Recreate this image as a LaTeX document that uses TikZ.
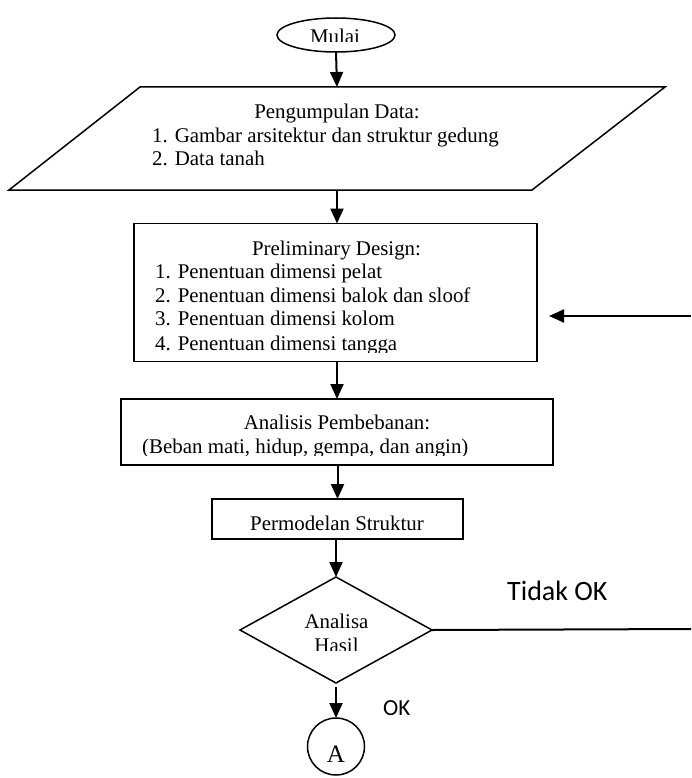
\documentclass[tikz,border=0pt]{standalone}
\usepackage{fontspec}
\setmainfont{Liberation Serif}
\newfontfamily\calibrifont{Carlito}
\usetikzlibrary{shapes.geometric,arrows.meta}
\begin{document}
\begin{tikzpicture}[x=1pt,y=-1pt,
  shapeline/.style={draw, line width=1.5pt, inner sep=0pt, outer sep=0pt},
  ghost/.style={inner sep=0pt, outer sep=0pt},
  conn/.style={line width=2pt, -{Triangle[width=13pt,length=15pt]}},
  plainline/.style={line width=2pt},
  txt/.style={inner sep=0pt, font=\fontsize{20.9}{23.7}\selectfont},
  lbl/.style={inner sep=0pt, font=\calibrifont\fontsize{28}{32}\selectfont},
  lblsmall/.style={inner sep=0pt, font=\calibrifont\fontsize{23}{27}\selectfont},
]
\useasboundingbox (0,0) rectangle (691,778);

% --- shapes ---
\node[shapeline, ellipse, minimum width=118pt, minimum height=34pt] (mulai) at (336,35) {};
\draw[line width=1.5pt] (140,87) -- (665,87) -- (532,190) -- (9,190) -- cycle;
\node[ghost, minimum width=390pt, minimum height=103pt] (data) at (337,138.5) {};
\node[shapeline, rectangle, minimum width=403pt, minimum height=138pt] (prelim) at (335.5,292.5) {};
\node[shapeline, rectangle, minimum width=432pt, minimum height=66pt] (analisis) at (337,432) {};
\node[shapeline, rectangle, minimum width=251pt, minimum height=40pt] (model) at (337.5,519) {};
\node[shapeline, diamond, minimum width=192pt, minimum height=106pt] (hasil) at (336,630) {};
\node[shapeline, circle, minimum size=57pt] (akhir) at (336,746.5) {};
\coordinate (tidakend) at (691,629);
\coordinate (backstart) at (691,316);

% --- texts ---
\begin{scope}
  \clip (280,18) rectangle (395,42);
  \node[txt, anchor=base] (tmulai) at (335,43.5) {Mulai};
\end{scope}
\node[txt, anchor=base] (tdata0) at (337,119) {Pengumpulan Data:};
\node[txt, anchor=base west] (tdata1) at (152,142.5) {1. Gambar arsitektur dan struktur gedung};
\node[txt, anchor=base west] (tdata2) at (152,166) {2. Data tanah};
\begin{scope}
  \clip (136,225) rectangle (535,352);
  \node[txt, anchor=base] (tpre0) at (336.5,255) {Preliminary Design:};
  \node[txt, anchor=base west] (tpre1) at (155,278) {1. Penentuan dimensi pelat};
  \node[txt, anchor=base west] (tpre2) at (155,302) {2. Penentuan dimensi balok dan sloof};
  \node[txt, anchor=base west] (tpre3) at (155,325.5) {3. Penentuan dimensi kolom};
  \node[txt, anchor=base west] (tpre4) at (155,350) {4. Penentuan dimensi tangga};
\end{scope}
\begin{scope}
  \clip (123,401) rectangle (551,455);
  \node[txt, anchor=base] (tana0) at (337,429) {Analisis Pembebanan:};
  \node[txt, anchor=base west] (tana1) at (142,453) {(Beban mati, hidup, gempa, dan angin)};
\end{scope}
\node[txt, anchor=base] (tmodel) at (337,530) {Permodelan Struktur};
\begin{scope}
  \clip (250,590) rectangle (420,650);
  \node[txt, anchor=base] (thasil0) at (336.5,628) {Analisa};
  \node[txt, anchor=base] (thasil1) at (336.5,652) {Hasil};
\end{scope}
\node[txt, anchor=base, font=\fontsize{25}{28}\selectfont] (takhir) at (336,762) {A};
\node[lbl, anchor=base west] (ttidak) at (507,600) {Tidak OK};
\node[lblsmall, anchor=base west] (tok) at (383,715) {OK};

% --- connectors ---
\draw[conn] (mulai.south) -- (data.north);
\draw[conn] (data.south) -- (prelim.north -| data.south);
\draw[conn] (analisis.north |- prelim.south) -- (analisis.north);
\draw[conn] (model.north |- analisis.south) -- (model.north);
\draw[conn] (model.south -| hasil.north) -- (hasil.north);
\draw[conn, shorten <=4pt] (hasil.south) -- (akhir.north);
\draw[plainline] (hasil.east) -- (tidakend);
\draw[conn, shorten >=12pt] (backstart) -- (backstart -| prelim.east);
\end{tikzpicture}
\end{document}
